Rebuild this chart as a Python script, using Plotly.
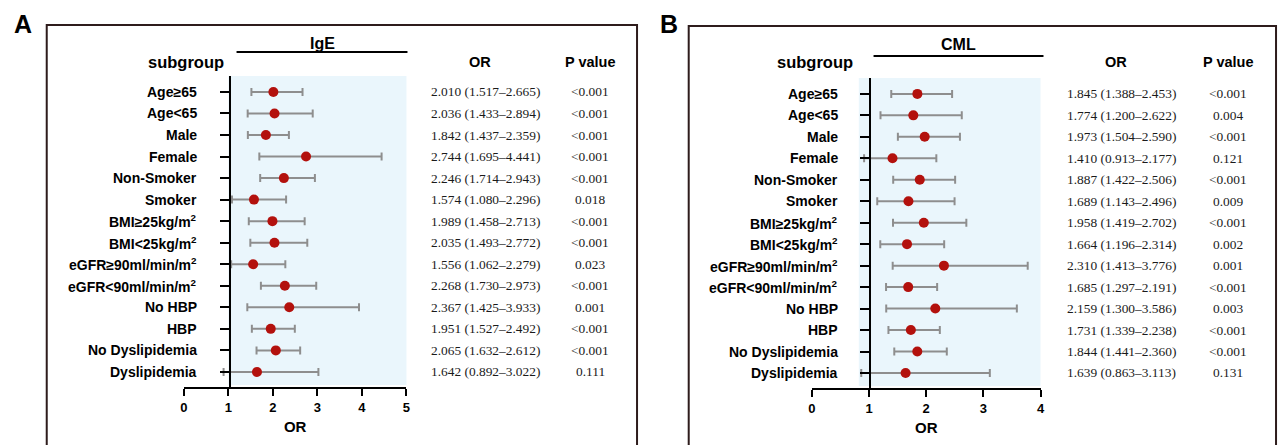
import plotly.graph_objects as go

W, H = 1285, 445

subgroups = ["Age≥65", "Age<65", "Male", "Female", "Non-Smoker", "Smoker",
             "BMI≥25kg/m<sup>2</sup>", "BMI<25kg/m<sup>2</sup>",
             "eGFR≥90ml/min/m<sup>2</sup>", "eGFR<90ml/min/m<sup>2</sup>",
             "No HBP", "HBP", "No Dyslipidemia", "Dyslipidemia"]

ige_or = [2.010, 2.036, 1.842, 2.744, 2.246, 1.574, 1.989, 2.035, 1.556, 2.268, 2.367, 1.951, 2.065, 1.642]
ige_lo = [1.517, 1.433, 1.437, 1.695, 1.714, 1.080, 1.458, 1.493, 1.062, 1.730, 1.425, 1.527, 1.632, 0.892]
ige_hi = [2.665, 2.894, 2.359, 4.441, 2.943, 2.296, 2.713, 2.772, 2.279, 2.973, 3.933, 2.492, 2.612, 3.022]
ige_p = ["<0.001", "<0.001", "<0.001", "<0.001", "<0.001", "0.018", "<0.001", "<0.001",
         "0.023", "<0.001", "0.001", "<0.001", "<0.001", "0.111"]

cml_or = [1.845, 1.774, 1.973, 1.410, 1.887, 1.689, 1.958, 1.664, 2.310, 1.685, 2.159, 1.731, 1.844, 1.639]
cml_lo = [1.388, 1.200, 1.504, 0.913, 1.422, 1.143, 1.419, 1.196, 1.413, 1.297, 1.300, 1.339, 1.441, 0.863]
cml_hi = [2.453, 2.622, 2.590, 2.177, 2.506, 2.496, 2.702, 2.314, 3.776, 2.191, 3.586, 2.238, 2.360, 3.113]
cml_p = ["<0.001", "0.004", "<0.001", "0.121", "<0.001", "0.009", "<0.001", "0.002",
         "0.001", "<0.001", "0.003", "<0.001", "<0.001", "0.131"]

ige_ticks = [0, 1, 2, 3, 4, 5]
cml_ticks = [0, 1, 2, 3, 4]

def px(x):
    return x / W

def py(y):
    return 1 - y / H

SANS = "Liberation Sans, Arial, sans-serif"
SERIF = "Liberation Serif, Times New Roman, serif"
FRAME = "#2e1c1c"
SHADE = "#eaf6fc"
RED = "#b3110d"
GRAY = "#8e8e8e"

fig = go.Figure()

panels = [
    dict(name="IgE", letter="A", orv=ige_or, lo=ige_lo, hi=ige_hi, p=ige_p, ticks=ige_ticks,
         xa="x", ya="y", x0px=181, x1px=405, rmax=5, axis1px=227, lab_r=196,
         shade=(1.0, 5.02), frame=(43, 637, 25), letter_x=19, title_line=(234, 406, 52),
         title_y=43, sub_x=183, or_x=485, p_x=590, ytop=76, ybot=387),
    dict(name="CML", letter="B", orv=cml_or, lo=cml_lo, hi=cml_hi, p=cml_p, ticks=cml_ticks,
         xa="x2", ya="y2", x0px=813, x1px=1043, rmax=4, axis1px=871, lab_r=841,
         shade=(0.82, 4.05), frame=(689, 1280, 26), letter_x=669, title_line=(875, 1046, 56),
         title_y=44, sub_x=816, or_x=1125, p_x=1232, ytop=78, ybot=388),
]

shapes = []
annotations = []

for i, P in enumerate(panels):
    sfx = "" if i == 0 else "2"
    n = len(subgroups)
    fig.add_trace(go.Scatter(
        x=P["orv"], y=subgroups, mode="markers",
        marker=dict(color=RED, size=10, line=dict(width=0)),
        error_x=dict(type="data", symmetric=False,
                     array=[h - o for h, o in zip(P["hi"], P["orv"])],
                     arrayminus=[o - l for o, l in zip(P["orv"], P["lo"])],
                     color=GRAY, thickness=2, width=4),
        xaxis=P["xa"], yaxis=P["ya"], showlegend=False, cliponaxis=False))
    fig.layout["xaxis" + sfx] = dict(
        domain=[px(P["x0px"]), px(P["x1px"])], range=[0, P["rmax"]],
        anchor="y" + sfx, showline=True, linecolor="black", linewidth=2,
        ticks="outside", ticklen=7, tickwidth=2, tickcolor="black",
        tickvals=P["ticks"], showgrid=False, zeroline=False,
        tickfont=dict(family=SANS, size=13, color="black", weight="bold"),
        title=dict(text="<b>OR</b>", font=dict(family=SANS, size=15, color="black"), standoff=8))
    fig.layout["yaxis" + sfx] = dict(
        domain=[py(P["ybot"]), py(P["ytop"])], range=[n - 1 + 0.70, -0.74],
        type="category", categoryorder="array", categoryarray=subgroups,
        anchor="free", position=px(P["axis1px"]),
        showline=True, linecolor="black", linewidth=2,
        ticks="outside", ticklen=9, tickwidth=2, tickcolor="black",
        showticklabels=False, showgrid=False, zeroline=False)
    shapes.append(dict(type="rect", xref=P["xa"], yref="paper",
                       x0=P["shade"][0], x1=P["shade"][1],
                       y0=py(P["ybot"] - 2), y1=py(P["ytop"]),
                       fillcolor=SHADE, line=dict(width=0), layer="below"))
    fl, fr, ft = P["frame"]
    shapes.append(dict(type="rect", xref="paper", yref="paper",
                       x0=px(fl), x1=px(fr), y0=py(460), y1=py(ft),
                       line=dict(color=FRAME, width=2)))
    tl0, tl1, tly = P["title_line"]
    shapes.append(dict(type="line", xref="paper", yref="paper",
                       x0=px(tl0), x1=px(tl1), y0=py(tly), y1=py(tly),
                       line=dict(color="black", width=2)))
    annotations.append(dict(text="<b>" + P["name"] + "</b>", xref="paper", yref="paper",
                            x=px((tl0 + tl1) / 2), y=py(P["title_y"]), showarrow=False,
                            font=dict(family=SANS, size=16, color="black"),
                            xanchor="center", yanchor="middle"))
    annotations.append(dict(text="<b>" + P["letter"] + "</b>", xref="paper", yref="paper",
                            x=px(P["letter_x"]), y=py(24), showarrow=False,
                            font=dict(family=SANS, size=25, color="black"),
                            xanchor="center", yanchor="middle"))
    annotations.append(dict(text="<b>subgroup</b>", xref="paper", yref="paper",
                            x=px(P["sub_x"]), y=py(62), showarrow=False,
                            font=dict(family=SANS, size=16.5, color="black"),
                            xanchor="center", yanchor="middle"))
    annotations.append(dict(text="<b>OR</b>", xref="paper", yref="paper",
                            x=px(P["or_x"] - 6), y=py(62), showarrow=False,
                            font=dict(family=SANS, size=14.5, color="black"),
                            xanchor="center", yanchor="middle"))
    annotations.append(dict(text="<b>P value</b>", xref="paper", yref="paper",
                            x=px(P["p_x"]), y=py(62), showarrow=False,
                            font=dict(family=SANS, size=14.5, color="black"),
                            xanchor="center", yanchor="middle"))
    for k, g in enumerate(subgroups):
        annotations.append(dict(text="<b>" + g + "</b>", xref="paper", yref=P["ya"],
                                x=px(P["lab_r"]), y=g, showarrow=False,
                                font=dict(family=SANS, size=14, color="black"),
                                xanchor="right", yanchor="middle"))
        annotations.append(dict(text=f"{P['orv'][k]:.3f} ({P['lo'][k]:.3f}–{P['hi'][k]:.3f})",
                                xref="paper", yref=P["ya"],
                                x=px(P["or_x"]), y=g, showarrow=False,
                                font=dict(family=SERIF, size=13.4, color="#1a1a1a"),
                                xanchor="center", yanchor="middle"))
        annotations.append(dict(text=P["p"][k], xref="paper", yref=P["ya"],
                                x=px(P["p_x"]), y=g, showarrow=False,
                                font=dict(family=SERIF, size=13.4, color="#1a1a1a"),
                                xanchor="center", yanchor="middle"))

fig.update_layout(
    width=W, height=H, margin=dict(l=0, r=0, t=0, b=0),
    paper_bgcolor="white", plot_bgcolor="rgba(0,0,0,0)",
    shapes=shapes, annotations=annotations, showlegend=False)

fig.write_html("out.html", config={"displayModeBar": False},
               post_script="document.body.style.margin='0px';document.body.style.overflow='hidden';")
